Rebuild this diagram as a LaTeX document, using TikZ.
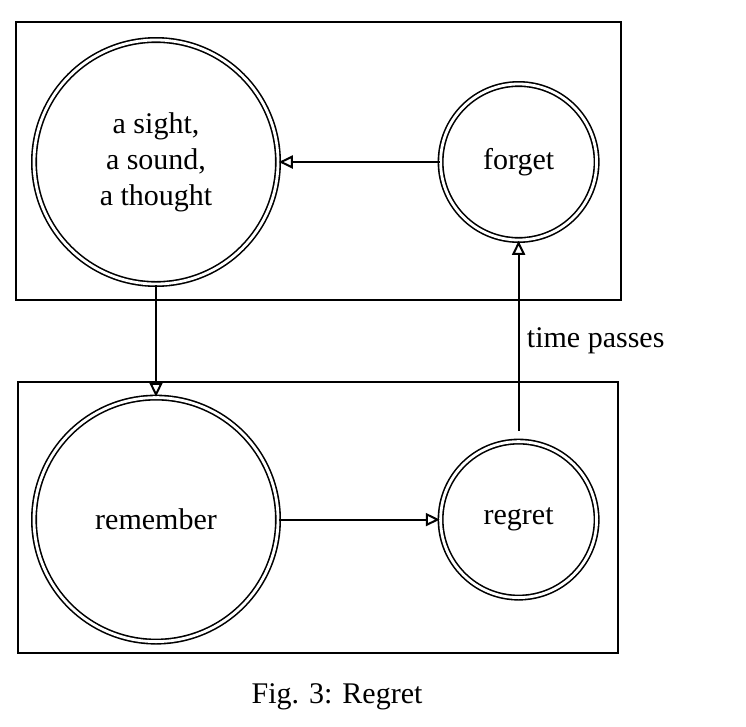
\documentclass[tikz,border=0pt]{standalone}
\usepackage{fontspec}
\setmainfont{Liberation Serif}
\usetikzlibrary{arrows.meta, positioning}

\begin{document}
\begin{tikzpicture}[
    x=1pt, y=-1pt,
    every node/.style={font=\fontsize{30}{36}\selectfont},
    state/.style={
        circle,
        draw,
        double,
        double distance=2.8pt,
        line width=1.6pt,
        align=center,
        inner sep=0pt
    },
    bigstate/.style={state, minimum size=244pt},
    smallstate/.style={state, minimum size=156pt},
    frame/.style={line width=2.4pt},
    arrow/.style={-{Triangle[open, length=14pt, width=13pt, line width=2pt]}, line width=2pt}
]

\useasboundingbox (0,0) rectangle (746,726);

\draw[frame] (16,22) rectangle (621,300);
\draw[frame] (18,382) rectangle (618,653);

\node[bigstate] (sight) at (156,162) {a sight,\\a sound,\\a thought};
\node[smallstate, right=161pt of sight] (forget) {forget};
\node[bigstate, below=112pt of sight] (remember) {remember};
\node[smallstate, right=161pt of remember] (regret) {regret};

\draw[arrow] (forget) -- (sight);
\draw[arrow] (sight) -- (remember);
\draw[arrow] (remember) -- (regret);
\draw[arrow, shorten <=10pt] (regret) -- node[right=4pt] {time passes} (forget);

\node (caption) at (337,697) {Fig. 3: Regret};

\end{tikzpicture}
\end{document}
